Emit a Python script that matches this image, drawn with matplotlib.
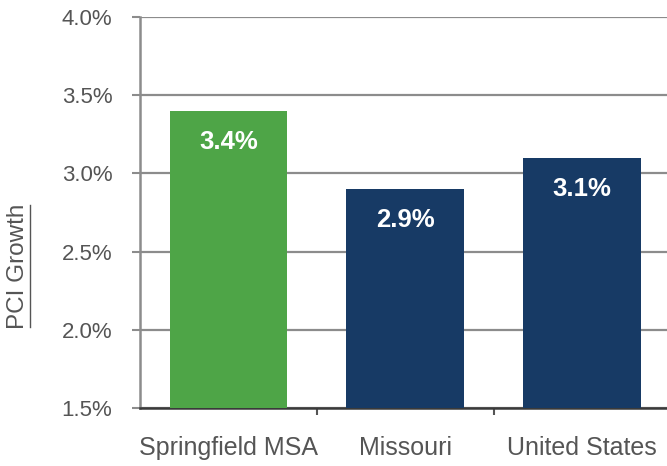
import matplotlib.pyplot as plt
from matplotlib.lines import Line2D

plt.rcParams['font.family'] = ['Liberation Sans', 'DejaVu Sans']

# PCI growth by area
regions = ['Springfield MSA', 'Missouri', 'United States']
growth = [3.4, 2.9, 3.1]
labels = ['3.4%', '2.9%', '3.1%']
colors = ['#4ea547', '#173a65', '#173a65']
yticks = [1.5, 2.0, 2.5, 3.0, 3.5, 4.0]

fig = plt.figure(figsize=(6.67, 4.66), dpi=100)
ax = fig.add_axes([0.21, 0.1245, 0.795, 0.839])

x = range(len(regions))
ax.bar(x, [g - 1.5 for g in growth], bottom=1.5, width=0.665, color=colors, zorder=3)
for i, g in enumerate(growth):
    ax.text(i, g - 0.2, labels[i], ha='center', va='center', color='white',
            fontsize=18.5, fontweight='bold', zorder=4)

ax.set_ylim(1.5, 4.0)
ax.set_xlim(-0.5, 2.5)
ax.set_yticks(yticks)
ax.set_yticklabels(['{:.1f}%'.format(t) for t in yticks])
ax.yaxis.grid(True, color='#8c8c8c', linewidth=1.6, zorder=0)
ax.set_axisbelow(True)

# ticks sit between the categories, labels under each bar
ax.set_xticks([0.5, 1.5])
ax.set_xticklabels([])
ax.set_xticks(list(x), minor=True)
ax.set_xticklabels(regions, minor=True)
ax.tick_params(axis='x', which='minor', length=0, pad=20, labelsize=18, labelcolor='#555555')
ax.tick_params(axis='x', which='major', length=5, width=1.5, color='#555555')
ax.tick_params(axis='y', length=6, width=1.5, color='#8c8c8c', pad=14,
               labelsize=16, labelcolor='#555555')

for side in ['top', 'right']:
    ax.spines[side].set_visible(False)
ax.spines['left'].set_color('#8c8c8c')
ax.spines['left'].set_linewidth(1.8)
ax.spines['bottom'].set_color('#3a3a3a')
ax.spines['bottom'].set_linewidth(1.8)

# underlined axis title
ylab = fig.text(0.027, 0.429, 'PCI Growth', rotation=90, ha='center', va='center',
                fontsize=17.5, color='#555555')
fig.canvas.draw()
bb = ylab.get_window_extent().transformed(fig.transFigure.inverted())
ux = bb.x1 + 0.002
fig.add_artist(Line2D([ux, ux], [bb.y0 + 0.004, bb.y1 - 0.004], color='#555555',
                      linewidth=1.0, transform=fig.transFigure))

fig.savefig('out.png', dpi=100)
